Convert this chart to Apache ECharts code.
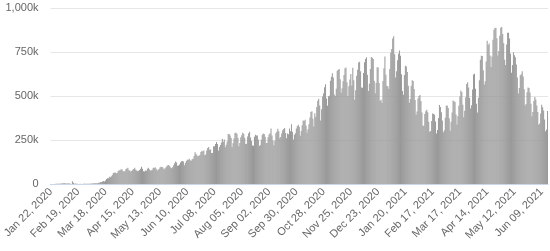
<!DOCTYPE html>
<html>
<head>
<meta charset="utf-8">
<script src="https://cdn.jsdelivr.net/npm/echarts@6/dist/echarts.min.js"></script>
<style>
html,body{margin:0;padding:0;background:#fff;}
#chart{width:550px;height:251px;}
</style>
</head>
<body>
<div id="chart"></div>
<script>
// Daily new cases (thousands), one row per week starting Wednesday
const startDate = [2020, 0, 22]; // Jan 22, 2020
const cases2020 = [
0.6,0.1,0.3,0.5,0.7,0.8,1.3,
1.8,1.7,2.1,2.6,2.8,3.2,3.9,
3.7,3.2,3.4,2.7,3.0,2.5,2.0,
0.4,15.1,6.5,2.1,2.6,2.0,1.9,
0.5,0.6,1.0,0.7,0.6,0.9,0.9,
0.9,1.1,1.4,1.7,1.9,1.8,2.4,
2.3,2.8,3.9,4.0,3.6,4.6,4.5,
7.3,7.5,10.9,11.3,14.0,16.8,14.8,
19.6,28.4,33.1,32.2,40.8,38.9,44.2,
51.6,62.3,64.0,65.1,60.5,61.8,74.2,
77.7,78.1,84.2,82.3,73.5,70.0,74.3,
84.9,87.6,92.6,78.1,76.2,71.1,73.9,
81.6,85.3,92.0,81.5,76.4,72.8,74.7,
80.2,86.9,97.5,86.1,72.9,71.1,77.1,
75.9,86.6,92.2,83.3,75.9,78.3,80.4,
92.4,90.5,95.5,86.8,75.4,80.5,84.7,
93.9,97.4,96.3,94.1,83.0,87.6,93.1,
101.2,106.8,107.6,100.2,93.1,90.0,95.0,
106.9,117.9,127.6,122.0,104.1,105.6,111.0,
122.3,129.6,130.5,128.3,106.8,119.6,130.3,
137.5,137.2,143.8,134.6,132.2,140.9,144.1,
159.2,180.4,170.6,161.6,158.0,160.5,164.9,
181.6,188.6,185.2,189.8,162.8,167.9,189.9,
204.1,210.0,194.5,196.0,176.4,176.7,214.4,
214.8,226.6,239.2,226.9,190.2,210.4,222.2,
236.5,256.6,240.2,252.4,208.9,222.6,241.4,
283.5,284.6,275.3,261.0,209.5,231.3,258.6,
290.0,291.8,285.2,263.2,214.1,233.2,265.5,
276.6,290.5,285.4,262.8,226.7,229.0,269.5,
287.9,296.4,263.8,244.1,218.8,217.4,268.6,
279.3,275.7,275.4,253.3,215.2,221.2,251.7,
280.2,287.0,284.5,268.9,233.2,233.0,266.1,
281.9,288.5,315.4,276.1,246.5,219.6,246.4,
287.9,297.3,314.3,299.7,259.6,267.0,286.5,
305.2,313.1,318.5,290.2,260.2,286.7,282.3,
315.5,299.1,339.8,296.9,253.3,280.5,288.3,
315.3,330.0,337.3,324.7,274.2,301.0,333.4,
360.6,358.4,365.3,330.5,291.5,310.6,339.8,
378.5,409.5,413.6,371.4,327.2,401.4,381.2,
437.0,472.5,484.5,445.4,360.6,424.8,497.3,
516.2,549.7,567.4,486.2,444.6,497.9,500.8,
587.3,608.9,629.9,605.5,508.9,499.8,541.2,
642.8,649.4,653.3,595.3,518.8,544.1,583.4,
620.0,657.3,661.3,578.3,499.9,555.4,594.0,
625.7,560.0,660.6,590.0,478.1,533.2,614.5,
649.4,690.8,694.8,640.2,548.1,546.3,630.0,
691.4,710.2,720.4,621.3,528.1,569.8,653.8,
722.1,717.1,710.7,586.8,515.1,575.5,663.1,
661.7,573.3,471.4,479.2,460.5,585.9,658.1,
725.0,620.6
];
const cases2021 = [
557.5,555.3,541.5,652.8,745.4,
767.5,826.6,840.0,737.4,605.4,640.0,703.0,
740.0,758.2,728.0,622.9,528.6,507.0,620.0,
671.5,667.3,635.7,558.6,462.1,483.1,557.4,
588.9,585.3,539.5,477.4,394.0,412.1,486.3,
500.4,506.2,471.2,406.7,330.9,331.3,397.6,
413.7,421.9,408.0,353.1,296.7,301.5,358.3,
400.6,398.6,393.2,355.3,286.9,306.4,375.4,
448.4,437.2,407.7,360.3,294.0,305.2,376.5,
445.2,445.8,432.5,373.0,303.2,354.0,406.8,
474.6,469.9,466.4,395.1,338.6,385.3,443.9,
497.6,531.3,522.5,450.9,379.2,416.0,493.0,
567.5,578.1,548.4,488.2,428.8,447.2,537.4,
621.5,626.8,541.0,455.9,406.9,490.4,589.2,
706.3,728.5,727.8,646.5,564.0,584.1,695.7,
813.8,789.2,798.6,730.8,664.4,724.3,819.3,
876.4,886.3,887.3,827.8,729.9,756.3,842.9,
888.4,891.5,852.5,800.3,706.3,676.4,792.9,
859.5,859.3,826.4,739.7,632.8,676.7,748.6,
731.4,720.4,678.5,605.7,514.1,545.4,617.3,
623.8,640.0,610.7,538.0,446.3,454.4,520.7,
548.3,545.5,520.1,456.2,384.3,408.5,471.2,
493.7,480.3,446.7,408.5,336.7,343.3,400.5,
450.0,436.0,418.0,366.0,300.0,310.0,415.0
];
const yTicks = [0, 250, 500, 750, 1000];
const monthNames = ['Jan','Feb','Mar','Apr','May','Jun','Jul','Aug','Sep','Oct','Nov','Dec'];

const values = cases2020.concat(cases2021);
const categories = [];
for (let i = 0; i < values.length; i++) {
  const d = new Date(Date.UTC(startDate[0], startDate[1], startDate[2] + i));
  const dd = String(d.getUTCDate()).padStart(2, '0');
  categories.push(monthNames[d.getUTCMonth()] + ' ' + dd + ', ' + d.getUTCFullYear());
}

const chart = echarts.init(document.getElementById('chart'), null, {renderer: 'canvas'});
const font = '"Liberation Sans", Arial, sans-serif';
chart.setOption({
  animation: false,
  grid: {left: 49, right: 2, top: 8, bottom: 67, containLabel: false},
  xAxis: {
    type: 'category',
    data: categories,
    axisLine: {lineStyle: {color: '#ccd6eb', width: 1}},
    axisTick: {show: false},
    axisLabel: {
      interval: 27,
      rotate: 45,
      color: '#666666',
      fontSize: 11,
      fontFamily: font,
      margin: 6
    }
  },
  yAxis: {
    type: 'value',
    min: yTicks[0],
    max: yTicks[yTicks.length - 1],
    interval: 250,
    axisLine: {show: false},
    axisTick: {show: false},
    splitLine: {lineStyle: {color: '#e6e6e6', width: 1}},
    axisLabel: {
      color: '#666666',
      fontSize: 11,
      fontFamily: font,
      margin: 12,
      formatter: function (v) { return v === 0 ? '0' : v.toLocaleString('en-US') + 'k'; }
    }
  },
  series: [{
    type: 'bar',
    data: values,
    barCategoryGap: '15%',
    itemStyle: {color: '#999999'}
  }]
});
</script>
</body>
</html>
